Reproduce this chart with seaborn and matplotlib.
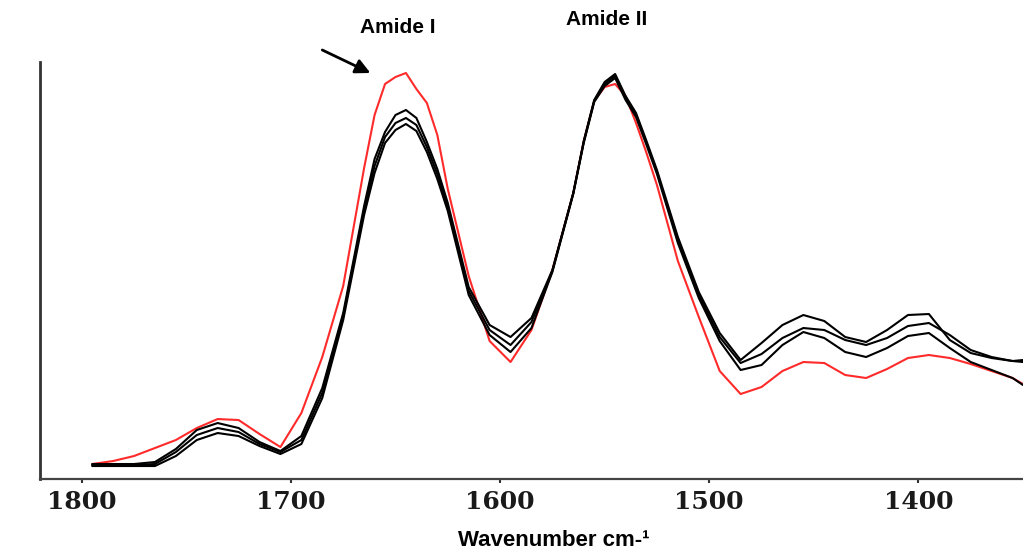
import numpy as np
import pandas as pd
import matplotlib
matplotlib.use("Agg")
import matplotlib.pyplot as plt
import seaborn as sns

# wavenumbers (cm-1)
wavenumber = [1795, 1785, 1775, 1765, 1755, 1745, 1735, 1725, 1715, 1705,
              1695, 1685, 1675, 1665, 1660, 1655, 1650, 1645, 1640, 1635,
              1630, 1625, 1615, 1605, 1595, 1585, 1575, 1565, 1560, 1555,
              1550, 1545, 1540, 1535, 1530, 1525, 1515, 1505, 1495, 1485,
              1475, 1465, 1455, 1445, 1435, 1425, 1415, 1405, 1395, 1385,
              1375, 1365, 1355, 1350]

# absorbance (arbitrary units)
red_sample = [0.015, 0.018, 0.023, 0.031, 0.039, 0.051, 0.060, 0.059, 0.045, 0.032,
              0.066, 0.122, 0.193, 0.311, 0.364, 0.395, 0.402, 0.406, 0.390, 0.376,
              0.344, 0.290, 0.203, 0.138, 0.117, 0.149, 0.209, 0.286, 0.338, 0.378,
              0.392, 0.395, 0.383, 0.356, 0.326, 0.294, 0.218, 0.162, 0.108, 0.085,
              0.092, 0.108, 0.117, 0.116, 0.104, 0.101, 0.110, 0.121, 0.124, 0.121,
              0.115, 0.108, 0.101, 0.095]

black_1 = [0.015, 0.015, 0.015, 0.017, 0.030, 0.049, 0.056, 0.051, 0.037, 0.028,
           0.043, 0.091, 0.166, 0.273, 0.320, 0.347, 0.364, 0.369, 0.361, 0.337,
           0.310, 0.276, 0.192, 0.154, 0.142, 0.161, 0.209, 0.286, 0.338, 0.379,
           0.397, 0.405, 0.383, 0.366, 0.338, 0.309, 0.242, 0.187, 0.146, 0.119,
           0.136, 0.154, 0.164, 0.158, 0.142, 0.137, 0.149, 0.164, 0.165, 0.139,
           0.126, 0.121, 0.118, 0.119]

black_2 = [0.014, 0.014, 0.014, 0.015, 0.027, 0.044, 0.051, 0.047, 0.035, 0.027,
           0.039, 0.086, 0.163, 0.269, 0.313, 0.342, 0.356, 0.361, 0.354, 0.332,
           0.305, 0.272, 0.188, 0.149, 0.134, 0.157, 0.208, 0.286, 0.337, 0.378,
           0.395, 0.403, 0.381, 0.364, 0.336, 0.307, 0.239, 0.184, 0.142, 0.116,
           0.125, 0.141, 0.151, 0.149, 0.139, 0.134, 0.141, 0.153, 0.156, 0.144,
           0.129, 0.122, 0.118, 0.117]

black_3 = [0.013, 0.013, 0.013, 0.013, 0.023, 0.039, 0.046, 0.043, 0.033, 0.025,
           0.035, 0.081, 0.159, 0.264, 0.306, 0.336, 0.349, 0.355, 0.348, 0.327,
           0.300, 0.268, 0.184, 0.144, 0.127, 0.151, 0.207, 0.285, 0.336, 0.377,
           0.393, 0.401, 0.379, 0.362, 0.334, 0.305, 0.236, 0.181, 0.138, 0.109,
           0.114, 0.134, 0.147, 0.141, 0.127, 0.122, 0.131, 0.143, 0.146, 0.131,
           0.117, 0.109, 0.101, 0.094]

tick_values = [1800, 1700, 1600, 1500, 1400]

series = {"red": red_sample, "b1": black_1, "b2": black_2, "b3": black_3}
df = pd.concat([pd.DataFrame({"wavenumber": wavenumber, "absorbance": v, "sample": k})
                for k, v in series.items()], ignore_index=True)

sns.set_theme(style="white")
plt.rcParams["font.family"] = ["Liberation Sans", "DejaVu Sans"]

fig = plt.figure(figsize=(10.23, 5.6), dpi=100)
ax = fig.add_axes([0.039, 0.1446, 0.961, 0.7447])

sns.lineplot(data=df, x="wavenumber", y="absorbance", hue="sample",
             hue_order=["red", "b1", "b2", "b3"],
             palette={"red": "#ff2a2a", "b1": "black", "b2": "black", "b3": "black"},
             linewidth=1.5, legend=False, ax=ax)

ax.set_xlim(1820, 1350)
ax.set_ylim(0, 0.417)
ax.set_xticks(tick_values)
ax.set_xticklabels([str(t) for t in tick_values], family="DejaVu Serif",
                   fontweight="bold", fontsize=18, color="#1a1a1a")
ax.set_yticks([])
ax.tick_params(axis="x", direction="out", length=3, width=1.5, color="#333333", pad=5)
ax.tick_params(axis="x", bottom=True)

for side in ["top", "right"]:
    ax.spines[side].set_visible(False)
ax.spines["left"].set_linewidth(2)
ax.spines["left"].set_color("#333333")
ax.spines["bottom"].set_linewidth(1.6)
ax.spines["bottom"].set_color("#444444")

ax.set_xlabel("")
ax.set_ylabel("")
fig.text(0.541, 0.034, "Wavenumber cm-\u00b9", ha="center", va="center",
         fontsize=16, fontweight="bold", color="black")

ax.text(1649, 0.451, "Amide I", ha="center", va="center", fontsize=15,
        fontweight="bold", color="black", clip_on=False)
ax.text(1549, 0.459, "Amide II", ha="center", va="center", fontsize=15,
        fontweight="bold", color="black", clip_on=False)
ax.annotate("", xy=(1662, 0.406), xytext=(1685, 0.429), annotation_clip=False,
            arrowprops=dict(arrowstyle="-|>", color="black", lw=2,
                            mutation_scale=22, shrinkA=0, shrinkB=0))

plt.savefig("out.png", dpi=100)
